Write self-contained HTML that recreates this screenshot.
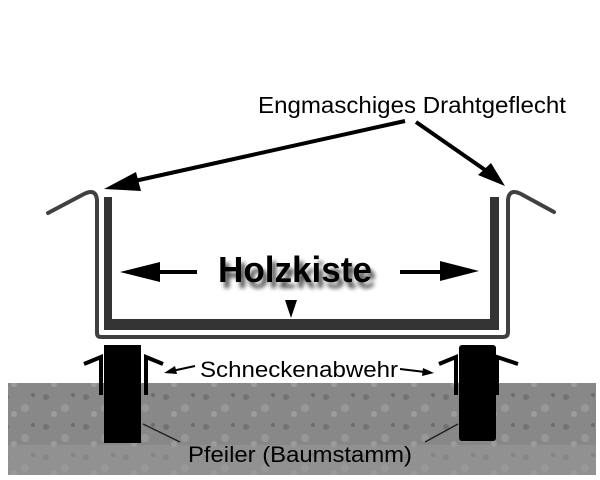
<!DOCTYPE html>
<html><head><style>
html,body{margin:0;padding:0;background:#fff;width:600px;height:480px;overflow:hidden}
svg text{font-family:"Liberation Sans",sans-serif}
</style></head><body>
<svg width="600" height="480" viewBox="0 0 600 480" xmlns="http://www.w3.org/2000/svg">
<defs>
<pattern id="g" width="40" height="30" patternUnits="userSpaceOnUse">
<rect width="40" height="30" fill="#888"/>
<circle cx="6" cy="7" r="3" fill="#737373"/><circle cx="25" cy="18" r="4" fill="#979797"/>
<circle cx="33" cy="5" r="2" fill="#6c6c6c"/><circle cx="14" cy="24" r="3" fill="#9c9c9c"/>
</pattern>
<filter id="sh" x="-10%" y="-20%" width="130%" height="160%"><feGaussianBlur stdDeviation="2"/></filter>
</defs>
<rect x="8" y="383" width="588" height="92" fill="url(#g)"/>
<rect x="8" y="445" width="588" height="30" fill="#9a9a9a" opacity="0.5"/>
<path d="M48 213 L84 194 Q96 188 97 200 L97 333 Q97 337 101 337 L503 337 Q508 337 508 332 L508 200 Q509 188 521 194 L554 212" fill="none" stroke="#404040" stroke-width="4" stroke-linecap="round"/>
<path d="M104 197 H112 V319 H490 V197 H499 V330 H104 Z" fill="#333"/>
<polygon points="285,300 297,300 291,318" fill="#000"/>
<rect x="104" y="345" width="37" height="98" fill="#000"/>
<rect x="459" y="345" width="37" height="96" rx="3" fill="#000"/>
<g fill="none" stroke="#000" stroke-width="4">
<path d="M84 364 L101 357 V395"/><path d="M163 364 L146 357 V395"/>
<path d="M439 364 L456 357 V395"/><path d="M518 364 L497 357 V395"/>
</g>
<g stroke="#000" stroke-width="4"><line x1="405" y1="121" x2="130" y2="182"/><line x1="416" y1="122" x2="488" y2="172"/></g>
<polygon points="104,189 136,172 141,191" fill="#000"/>
<polygon points="505,186 478,175 491,163" fill="#000"/>
<text x="258" y="113" font-size="23" textLength="308" lengthAdjust="spacingAndGlyphs" fill="#000">Engmaschiges Drahtgeflecht</text>
<line x1="140" y1="272" x2="197" y2="272" stroke="#000" stroke-width="4"/>
<polygon points="120,272 160,262 160,282" fill="#000"/>
<line x1="400" y1="272" x2="460" y2="272" stroke="#000" stroke-width="4"/>
<polygon points="479,271 440,261 440,281" fill="#000"/>
<text x="220" y="285" font-size="36" font-weight="bold" textLength="154" lengthAdjust="spacingAndGlyphs" fill="#000" opacity="0.7" filter="url(#sh)" transform="translate(2,3)">Holzkiste</text>
<text x="218" y="282" font-size="36" font-weight="bold" textLength="154" lengthAdjust="spacingAndGlyphs" fill="#000">Holzkiste</text>
<text x="200" y="377" font-size="22" textLength="198" lengthAdjust="spacingAndGlyphs" fill="#000">Schneckenabwehr</text>
<line x1="195" y1="366" x2="172" y2="371" stroke="#000" stroke-width="2"/>
<polygon points="164,373 175,366 177,374" fill="#000"/>
<line x1="400" y1="369" x2="425" y2="372" stroke="#000" stroke-width="2"/>
<polygon points="434,373 423,368 422,376" fill="#000"/>
<g stroke="#222" stroke-width="1.5"><line x1="180" y1="442" x2="143" y2="424"/><line x1="425" y1="442" x2="458" y2="424"/></g>
<text x="188" y="462" font-size="22" textLength="224" lengthAdjust="spacingAndGlyphs" fill="#000">Pfeiler (Baumstamm)</text>
</svg>
</body></html>
